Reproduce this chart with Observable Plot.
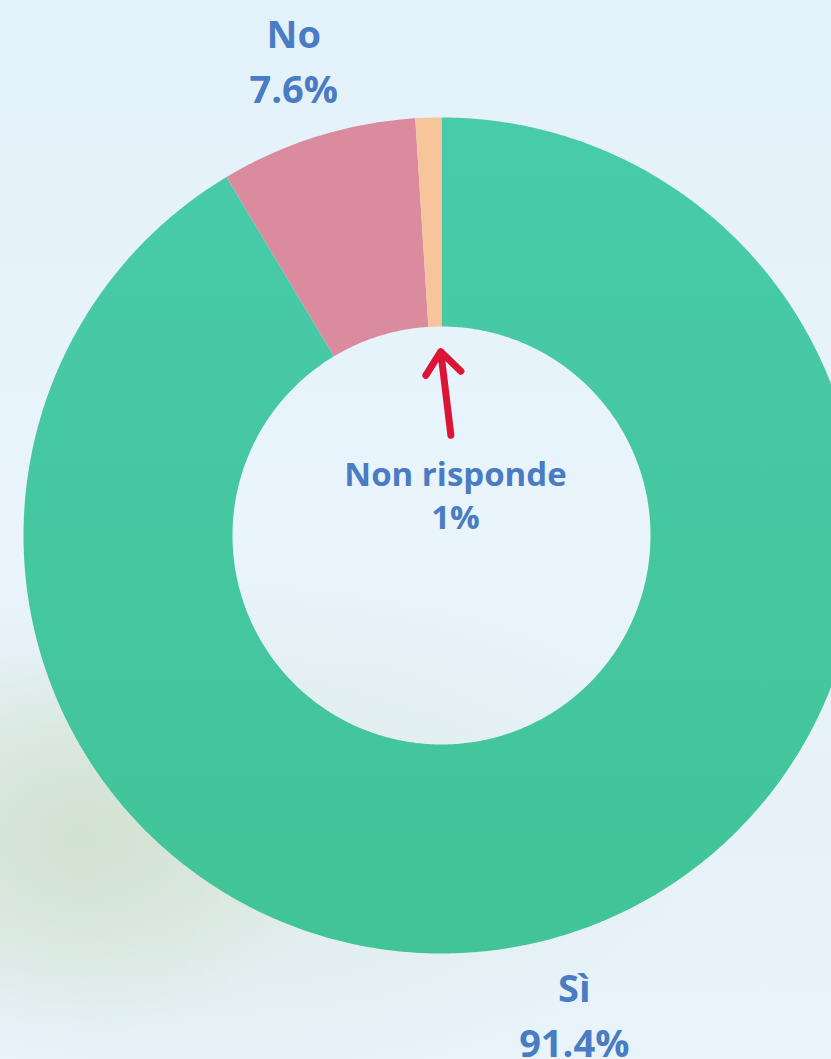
<!DOCTYPE html>
<html><head><meta charset="utf-8">
<script src="https://cdn.jsdelivr.net/npm/d3@7"></script>
<script src="https://cdn.jsdelivr.net/npm/@observablehq/plot@0.6"></script>
<style>
html,body{margin:0;padding:0;width:831px;height:1059px;overflow:hidden;}
body{
  background:
    radial-gradient(ellipse 260px 200px at 80px 840px, rgba(208,224,205,0.9), rgba(208,224,205,0) 100%),
    radial-gradient(ellipse 480px 260px at 220px 830px, rgba(216,230,220,0.6), rgba(216,230,220,0) 100%),
    linear-gradient(180deg, #e3f1fa 0%, #e9f4fb 50%, #e6f2f8 75%, #e8f3fa 100%);
}
#chart svg{display:block;background:transparent;}
</style></head>
<body><div id="chart"></div>
<script>
const categories = ["Sì", "No", "Non risponde"];
const values = [91.4, 7.6, 1.0];
const labels = ["Sì\n91.4%", "No\n7.6%", "Non risponde\n1%"];
const colors = ["url(#greenGrad)", "#da8c9e", "#f7c49c"];

const W = 831, H = 1059, R = 418, CX = 441, CY = 535;
const INNER = 0.5, LABEL_R = 1.19, ARROW_TIP = 0.44, ARROW_TAIL = 0.24;

const total = d3.sum(values);
let acc = 0;
const slices = categories.map((c, i) => {
  const a0 = acc / total * 2 * Math.PI;
  acc += values[i];
  const a1 = acc / total * 2 * Math.PI;
  return {cat: c, label: labels[i], a0, a1, mid: (a0 + a1) / 2};
});

// polygon outline of each ring segment, sampled along the arcs
const ring = [];
for (const s of slices) {
  const n = Math.max(4, Math.ceil((s.a1 - s.a0) / 0.01));
  for (let k = 0; k <= n; k++) {
    const a = s.a0 + (s.a1 - s.a0) * k / n;
    ring.push({cat: s.cat, x: Math.sin(a), y: Math.cos(a)});
  }
  for (let k = n; k >= 0; k--) {
    const a = s.a0 + (s.a1 - s.a0) * k / n;
    ring.push({cat: s.cat, x: INNER * Math.sin(a), y: INNER * Math.cos(a)});
  }
}

const outerLabels = slices.slice(0, 2).map(s => ({
  label: s.label, x: LABEL_R * Math.sin(s.mid), y: LABEL_R * Math.cos(s.mid)
}));
const small = slices[2];
const arrowData = [{
  x1: ARROW_TAIL * Math.sin(small.mid) + 0.03, y1: ARROW_TAIL * Math.cos(small.mid),
  x2: ARROW_TIP * Math.sin(small.mid) + 0.012, y2: ARROW_TIP * Math.cos(small.mid)
}];
const centerLabel = [{label: small.label, x: 0, y: 0}];

const font = "'Open Sans', 'Noto Sans', sans-serif";
const chart = Plot.plot({
  width: W, height: H,
  margin: 0,
  x: {domain: [-CX / R, (W - CX) / R], range: [0, W], axis: null},
  y: {domain: [-(H - CY) / R, CY / R], range: [H, 0], axis: null},
  color: {domain: categories, range: colors},
  style: {background: "transparent", fontFamily: font},
  marks: [
    Plot.line(ring, {x: "x", y: "y", z: "cat", fill: "cat", stroke: null, curve: "linear"}),
    Plot.arrow(arrowData, {x1: "x1", y1: "y1", x2: "x2", y2: "y2", stroke: "#dc1537",
      strokeWidth: 7, headLength: 7, headAngle: 78, strokeLinecap: "round", strokeLinejoin: "round"}),
    Plot.text(outerLabels, {x: "x", y: "y", text: "label", fill: "#4a7cc4",
      fontSize: 38, fontWeight: 700, lineHeight: 1.45, textAnchor: "middle", dy: -3}),
    Plot.text(centerLabel, {x: "x", y: "y", text: "label", fill: "#4a7cc4",
      fontSize: 33, fontWeight: 700, lineHeight: 1.3, textAnchor: "middle", dx: 14, dy: -42})
  ]
});

const defs = d3.create("svg:defs");
const g = defs.append("linearGradient").attr("id", "greenGrad")
  .attr("x1", 0).attr("y1", 0).attr("x2", 0).attr("y2", 1);
g.append("stop").attr("offset", "0%").attr("stop-color", "#48cba9");
g.append("stop").attr("offset", "100%").attr("stop-color", "#42c498");
chart.insertBefore(defs.node(), chart.firstChild);

document.getElementById("chart").appendChild(chart);
</script>
</body></html>
